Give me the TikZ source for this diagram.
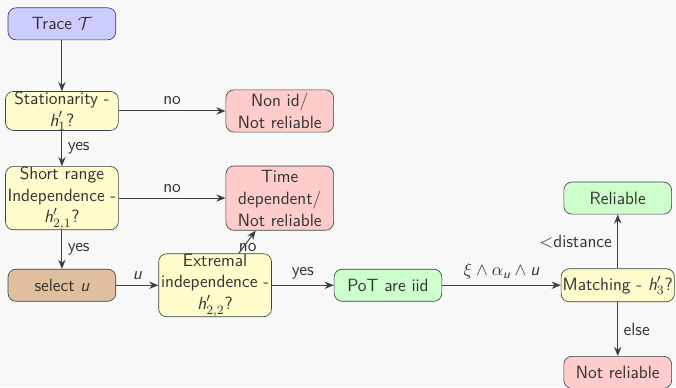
\documentclass[tikz,border=0pt]{standalone}
\usepackage{amsmath}
\usetikzlibrary{arrows.meta, positioning, backgrounds}
\definecolor{lineDark}{HTML}{3A4046}
\definecolor{textDark}{HTML}{333333}
\definecolor{bgGray}{HTML}{F8F8F8}
\newcommand{\symH}{\text{\itshape h}}
\newcommand{\symU}{\text{\itshape u}}
\tikzset{
  arrowD/.style={-{Stealth[length=2mm, width=1.6mm]}, lineDark, semithick},
  boxBase/.style={rectangle, rounded corners=5pt, draw=lineDark, text=textDark,
                  align=center, font=\fontsize{11}{13.6}\selectfont\sffamily, inner sep=1pt,
                  minimum width=2.35cm, minimum height=0.7cm},
  boxBlue/.style={boxBase, fill=blue!20},
  boxYellow/.style={boxBase, fill=yellow!20, minimum width=2.46cm, inner ysep=0pt},
  boxRed/.style={boxBase, fill=red!20},
  boxGreen/.style={boxBase, fill=green!20},
  boxBrown/.style={boxBase, fill=brown!50},
  lbl/.style={font=\fontsize{11}{13.6}\selectfont\sffamily, text=textDark},
}
\begin{document}
\begin{tikzpicture}[node distance=1.9cm and 4.75cm, on grid]
    \useasboundingbox[fill=bgGray] (0,0) rectangle (14.74,-8.44);
    \node[boxBlue] (trace) at (1.35,-0.52) {Trace $\mathcal{T}$};
    \node[boxYellow, below=of trace, minimum height=0.85cm] (stat) {Stationarity -\\$\symH'_1$?};
    \node[boxRed, right=of stat, minimum height=0.92cm] (nonid) {Non id/\\Not reliable};
    \node[boxYellow, below=of stat, minimum height=1.31cm] (short) {Short range\\Independence -\\$\symH'_{2,1}$?};
    \node[boxRed, right=of short, minimum height=1.4cm] (timedep) {Time\\dependent/\\Not reliable};
    \node[boxBrown, below=of short] (select) {select $\symU$};
    \node[boxYellow, right=3.34cm of select, minimum height=1.29cm] (extr) {Extremal\\independence -\\$\symH'_{2,2}$?};
    \node[boxGreen, right=3.77cm of extr] (pot) {PoT are iid};
    \node[boxYellow, right=5.01cm of pot, minimum height=0.72cm] (match) {Matching - $\symH'_3$?};
    \node[boxGreen, above=of match] (rel) {Reliable};
    \node[boxRed, below=of match] (notrel) {Not reliable};

    \draw[arrowD] (trace) -- (stat);
    \draw[arrowD] (stat) -- node[lbl, above] {no} (nonid);
    \draw[arrowD] (stat) -- node[lbl, right] {yes} (short);
    \draw[arrowD] (short) -- node[lbl, above] {no} (timedep);
    \draw[arrowD] (short) -- node[lbl, right] {yes} (select);
    \draw[arrowD] (select) -- node[lbl, above] {$\symU$} (extr);
    \draw[arrowD] (extr) -- node[lbl, pos=0.25, xshift=3pt] {no} (timedep);
    \draw[arrowD] (extr) -- node[lbl, above] {yes} (pot);
    \draw[arrowD] (pot) -- node[lbl, above] {$\xi \wedge \alpha_{\symU} \wedge \symU$} (match);
    \draw[arrowD] (match) -- node[lbl, left] {$<$distance} (rel);
    \draw[arrowD] (match) -- node[lbl, right] {else} (notrel);
\end{tikzpicture}
\end{document}
